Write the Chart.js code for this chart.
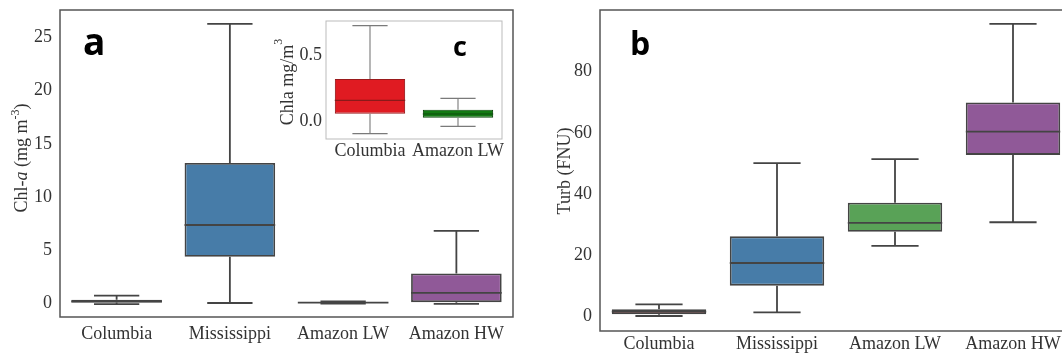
<!DOCTYPE html>
<html>
<head>
<meta charset="utf-8">
<script src="https://cdn.jsdelivr.net/npm/chart.js@4.4.1/dist/chart.umd.min.js"></script>
<style>
  html, body { margin: 0; padding: 0; background: #fff; width: 1062px; height: 355px; overflow: hidden; }
  canvas { position: absolute; }
</style>
</head>
<body>
<canvas id="chartA" width="530" height="355" style="left:0;top:0"></canvas>
<canvas id="chartB" width="540" height="355" style="left:540px;top:0"></canvas>
<canvas id="chartC" width="240" height="160" style="left:270px;top:15px"></canvas>
<script>
// Panel a - Chl-a (mg m-3)
const rivers = ['Columbia', 'Mississippi', 'Amazon LW', 'Amazon HW'];
const chlMin = [-0.09, 0.02, -0.035, -0.07];
const chlQ1  = [0.06, 4.36, 0.03, 0.10];
const chlMed = [0.16, 7.36, 0.058, 0.97];
const chlQ3  = [0.32, 13.2, 0.09, 2.8];
const chlMax = [0.72, 26.3, 0.175, 6.8];
const chlTicks = [0, 5, 10, 15, 20, 25];

// Panel b - Turbidity (FNU)
const turbMin = [0.2, 1.4, 23.1, 30.8];
const turbQ1  = [0.8, 10.1, 27.7, 52.8];
const turbMed = [1.6, 17.5, 30.6, 60.4];
const turbQ3  = [2.4, 26.2, 37.2, 69.9];
const turbMax = [4.0, 50.1, 51.4, 95.6];
const turbTicks = [0, 20, 40, 60, 80];

// Inset c - Chla mg/m3, zoom on the two low rivers
const insetRivers = ['Columbia', 'Amazon LW'];
const insetMin = [-0.09, -0.035];
const insetQ1  = [0.06, 0.03];
const insetMed = [0.16, 0.058];
const insetQ3  = [0.32, 0.09];
const insetMax = [0.72, 0.175];
const insetTicks = [0.0, 0.5];

const serif = '"Liberation Serif", "Times New Roman", serif';
const sans = '"Open Sans", "DejaVu Sans", sans-serif';
const fillColors = ['#cb3335', '#477ca8', '#59a257', '#905998'];

// draws whiskers, caps and median on top of the floating bars
const boxPlugin = {
    id: 'boxWhiskers',
    afterDatasetsDraw(chart, args, opts) {
        const ctx = chart.ctx;
        const y = chart.scales.y;
        const bars = chart.getDatasetMeta(0).data;
        ctx.save();
        ctx.lineWidth = opts.lineWidth;
        ctx.lineCap = 'butt';
        bars.forEach(function(bar, i) {
            const half = bar.width / 2;
            const yMin = y.getPixelForValue(opts.min[i]);
            const yMax = y.getPixelForValue(opts.max[i]);
            const yQ1 = y.getPixelForValue(opts.q1[i]);
            const yQ3 = y.getPixelForValue(opts.q3[i]);
            const yMed = y.getPixelForValue(opts.med[i]);
            ctx.strokeStyle = opts.whisker;
            ctx.beginPath();
            ctx.moveTo(bar.x, yQ3); ctx.lineTo(bar.x, yMax);
            ctx.moveTo(bar.x, yQ1); ctx.lineTo(bar.x, yMin);
            ctx.moveTo(bar.x - half / 2, yMax); ctx.lineTo(bar.x + half / 2, yMax);
            ctx.moveTo(bar.x - half / 2, yMin); ctx.lineTo(bar.x + half / 2, yMin);
            ctx.stroke();
            ctx.strokeStyle = Array.isArray(opts.median) ? opts.median[i] : opts.median;
            ctx.beginPath();
            ctx.moveTo(bar.x - half, yMed); ctx.lineTo(bar.x + half, yMed);
            ctx.stroke();
        });
        ctx.restore();
    }
};

// frame around the plot area, panel letter and the rotated y title
const framePlugin = {
    id: 'frameAndTitles',
    afterDraw(chart, args, opts) {
        const ctx = chart.ctx;
        const a = chart.chartArea;
        ctx.save();
        ctx.strokeStyle = opts.frameColor;
        ctx.lineWidth = opts.frameWidth;
        ctx.strokeRect(a.left, a.top, a.right - a.left, a.bottom - a.top);

        ctx.fillStyle = '#000';
        ctx.font = 'bold ' + opts.letterSize + 'px ' + sans;
        ctx.textBaseline = 'alphabetic';
        ctx.textAlign = 'left';
        ctx.fillText(opts.letter, opts.letterX, opts.letterY);

        // y title built from pieces (italic / superscript)
        ctx.fillStyle = '#333';
        ctx.translate(opts.titleX, opts.titleY);
        ctx.rotate(-Math.PI / 2);
        let total = 0;
        opts.title.forEach(function(p) {
            ctx.font = p.font;
            total += ctx.measureText(p.text).width;
        });
        let x = -total / 2;
        ctx.textBaseline = 'middle';
        opts.title.forEach(function(p) {
            ctx.font = p.font;
            ctx.fillText(p.text, x, (p.dy || 0));
            x += ctx.measureText(p.text).width;
        });
        ctx.restore();
    }
};

function makeBoxChart(id, labels, stats, cfg) {
    return new Chart(document.getElementById(id), {
        type: 'bar',
        data: {
            labels: labels,
            datasets: [{
                data: stats.q1.map(function(v, i) { return [v, stats.q3[i]]; }),
                backgroundColor: cfg.fill,
                borderColor: cfg.edge,
                borderWidth: cfg.lineWidth,
                borderSkipped: false,
                barPercentage: 0.8,
                categoryPercentage: 1.0
            }]
        },
        options: {
            responsive: false,
            animation: false,
            layout: { padding: cfg.padding },
            plugins: {
                legend: { display: false },
                tooltip: { enabled: false },
                boxWhiskers: {
                    min: stats.min, max: stats.max, q1: stats.q1, q3: stats.q3, med: stats.med,
                    whisker: cfg.whisker, median: cfg.median, lineWidth: cfg.lineWidth
                },
                frameAndTitles: cfg.frame
            },
            scales: {
                x: {
                    grid: { display: false, drawTicks: false },
                    border: { display: false },
                    ticks: {
                        color: '#333', padding: cfg.xPad, font: { family: serif, size: 18 },
                        maxRotation: 0, minRotation: 0, autoSkip: false
                    },
                    afterFit: function(s) { s.height = cfg.xHeight; s.paddingLeft = 0; s.paddingRight = 0; }
                },
                y: {
                    min: cfg.yMin,
                    max: cfg.yMax,
                    grid: { display: false, drawTicks: false },
                    border: { display: false },
                    ticks: {
                        color: '#333', padding: cfg.yPad, font: { family: serif, size: 18 },
                        callback: cfg.tickFmt
                    },
                    afterBuildTicks: function(s) { s.ticks = cfg.ticks.map(function(v) { return { value: v }; }); },
                    afterFit: function(s) { s.width = cfg.yWidth; s.paddingTop = 0; s.paddingBottom = 0; }
                }
            }
        },
        plugins: [boxPlugin, framePlugin]
    });
}

const normal = '18px ' + serif;
const italic = 'italic 18px ' + serif;
const small = '12px ' + serif;

makeBoxChart('chartA', rivers,
    { min: chlMin, q1: chlQ1, med: chlMed, q3: chlQ3, max: chlMax },
    {
        fill: fillColors, edge: '#444', whisker: '#444', median: '#444', lineWidth: 1.8,
        padding: { left: 0, top: 10, right: 17, bottom: 0 },
        yWidth: 60, xHeight: 38, xPad: 6, yPad: 8,
        yMin: -1.3, yMax: 27.6, ticks: chlTicks,
        tickFmt: function(v) { return String(v); },
        frame: {
            frameColor: '#555', frameWidth: 1.5,
            letter: 'a', letterSize: 37, letterX: 83, letterY: 55,
            titleX: 22, titleY: 158,
            title: [
                { text: 'Chl-', font: normal },
                { text: 'a', font: italic },
                { text: ' (mg m', font: normal },
                { text: '-3', font: small, dy: -6 },
                { text: ')', font: normal }
            ]
        }
    });

makeBoxChart('chartB', rivers,
    { min: turbMin, q1: turbQ1, med: turbMed, q3: turbQ3, max: turbMax },
    {
        fill: fillColors, edge: '#444', whisker: '#444', median: '#444', lineWidth: 1.8,
        padding: { left: 0, top: 10, right: 8, bottom: 0 },
        yWidth: 60, xHeight: 24, xPad: 2, yPad: 8,
        yMin: -4.7, yMax: 100.1, ticks: turbTicks,
        tickFmt: function(v) { return String(v); },
        frame: {
            frameColor: '#555', frameWidth: 1.5,
            letter: 'b', letterSize: 32, letterX: 90, letterY: 55,
            titleX: 25, titleY: 171,
            title: [{ text: 'Turb (FNU)', font: normal }]
        }
    });

makeBoxChart('chartC', insetRivers,
    { min: insetMin, q1: insetQ1, med: insetMed, q3: insetQ3, max: insetMax },
    {
        fill: ['#e01b22', '#137a13'], edge: ['#9a1a1c', '#0e4a0e'], whisker: '#7a7a7a',
        median: ['#8a1a1a', '#0e4a0e'], lineWidth: 1.1,
        padding: { left: 0, top: 6, right: 8, bottom: 0 },
        yWidth: 56, xHeight: 36, xPad: 1, yPad: 4,
        yMin: -0.13, yMax: 0.755, ticks: insetTicks,
        tickFmt: function(v) { return v.toFixed(1); },
        frame: {
            frameColor: '#bbb', frameWidth: 1,
            letter: 'c', letterSize: 27, letterX: 183, letterY: 41,
            titleX: 18, titleY: 67,
            title: [
                { text: 'Chla mg/m', font: normal },
                { text: '3', font: small, dy: -9 }
            ]
        }
    });
</script>
</body>
</html>
